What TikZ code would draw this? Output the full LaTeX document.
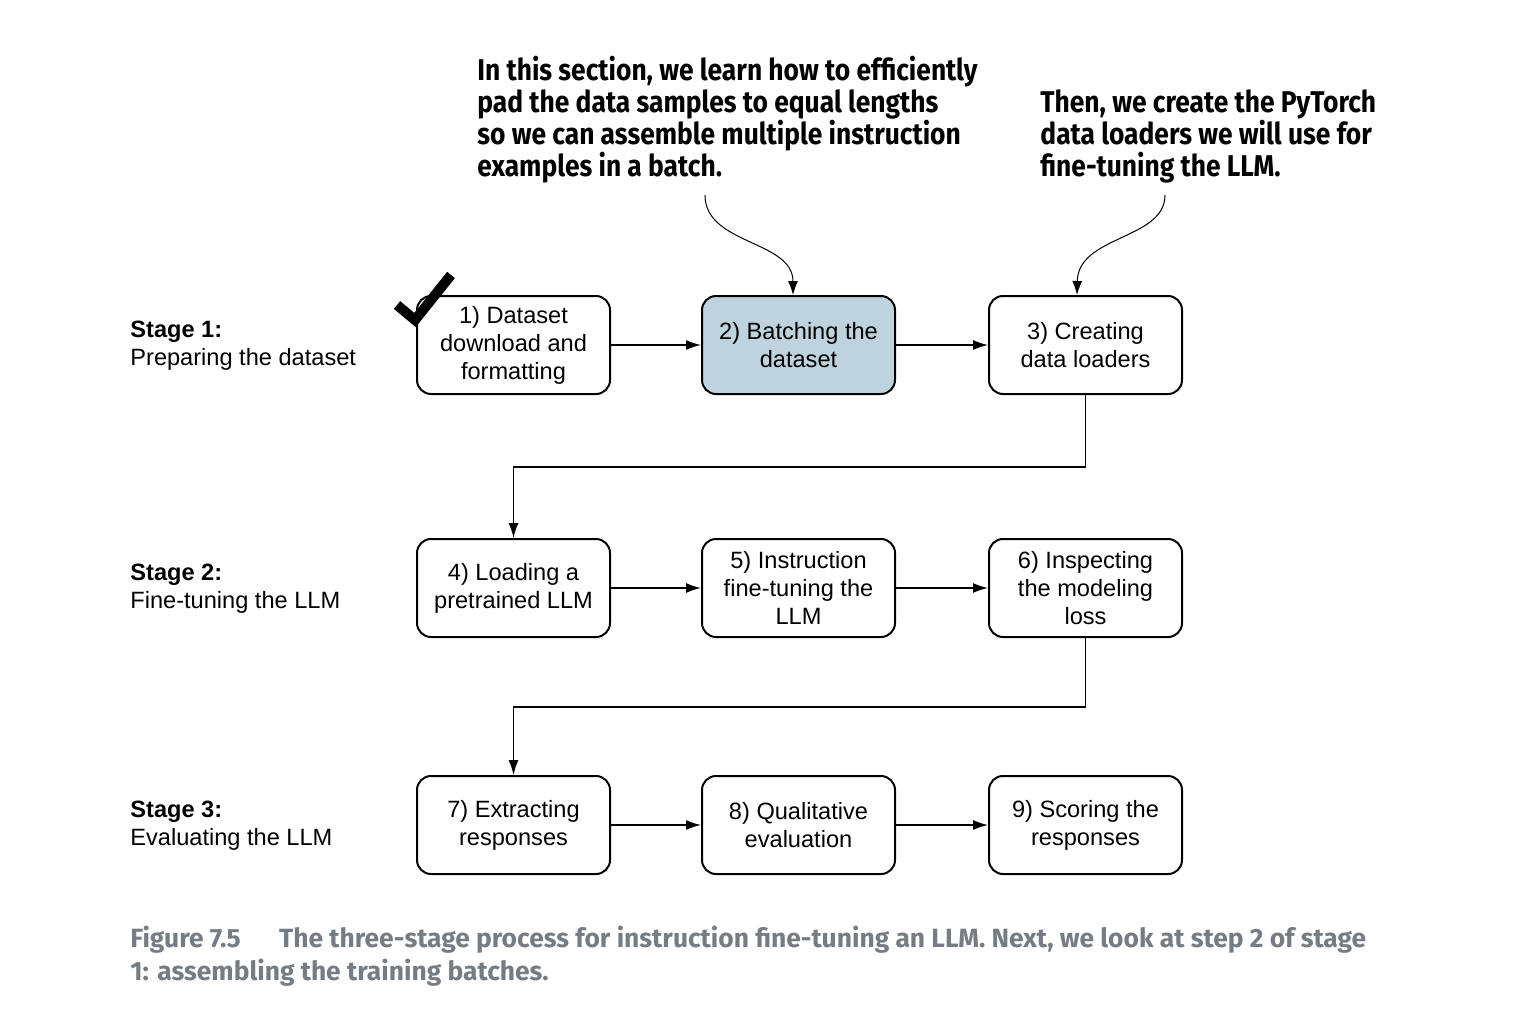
\documentclass[tikz,border=0pt]{standalone}
\usepackage{fontspec}
\setmainfont{Liberation Sans}
\newfontfamily\annotfont[FakeStretch=0.88]{Fira Sans}
\newfontfamily\capfont{Fira Sans}
\usetikzlibrary{arrows.meta}
\definecolor{boxblue}{HTML}{BED3DE}
\definecolor{capgray}{HTML}{767C83}
\tikzset{
  stepbox/.style={draw, line width=1pt, rounded corners=7pt, minimum width=96.5pt,
    minimum height=49pt, align=center, inner sep=0pt,
    font=\fontsize{11.8}{14}\selectfont},
  flow/.style={line width=0.7pt, -{Latex[length=7.5pt,width=5pt]}},
  notearrow/.style={line width=0.5pt, -{Latex[length=7pt,width=5pt]}},
  stagelbl/.style={anchor=west, align=left, inner sep=0pt,
    font=\fontsize{11.8}{14}\selectfont},
  notetext/.style={anchor=west, align=left, inner sep=0pt,
    font=\annotfont\bfseries\fontsize{15}{16}\selectfont},
}
\begin{document}
\begin{tikzpicture}[x=0.5pt,y=-0.5pt]
\useasboundingbox (0,0) rectangle (1530,1028);

% stage labels
\node[stagelbl] (s1) at (130,346) {\textbf{Stage 1:}\\Preparing the dataset};
\node[stagelbl] (s2) at (130,589) {\textbf{Stage 2:}\\Fine-tuning the LLM};
\node[stagelbl] (s3) at (130,826) {\textbf{Stage 3:}\\Evaluating the LLM};

% boxes
\node[stepbox] (b1) at (513.5,345) {1) Dataset\\download and\\formatting};
\node[stepbox, fill=boxblue] (b2) at (798.5,345) {2) Batching the\\dataset};
\node[stepbox] (b3) at (1085.5,345) {3) Creating\\data loaders};
\node[stepbox] (b4) at (513.5,588) {4) Loading a\\pretrained LLM};
\node[stepbox] (b5) at (798.5,588) {5) Instruction\\fine-tuning the\\LLM};
\node[stepbox] (b6) at (1085.5,588) {6) Inspecting\\the modeling\\loss};
\node[stepbox] (b7) at (513.5,825) {7) Extracting\\responses};
\node[stepbox] (b8) at (798.5,825) {8) Qualitative\\evaluation};
\node[stepbox] (b9) at (1085.5,825) {9) Scoring the\\responses};

% check mark
\draw[line width=5pt, miter limit=10] (397,305) -- (415,320) -- (451,275);

% horizontal flows
\draw[flow] (b1) -- (b2);
\draw[flow] (b2) -- (b3);
\draw[flow] (b4) -- (b5);
\draw[flow] (b5) -- (b6);
\draw[flow] (b7) -- (b8);
\draw[flow] (b8) -- (b9);

% row transitions
\draw[flow] (b3.south) -- ++(0,72) -| (b4.north);
\draw[flow] (b6.south) -- ++(0,69) -| (b7.north);

% annotations
\node[notetext] (n1) at (477,120) {In this section, we learn how to efficiently\\pad the data samples to equal lengths\\so we can assemble multiple instruction\\examples in a batch.};
\node[notetext] (n2) at (1040,136) {Then, we create the PyTorch\\data loaders we will use for\\fine-tuning the LLM.};
\coordinate (c1) at (705,195);
\coordinate (c2) at (1165,195);
\draw[notearrow] (c1) .. controls (705,245) and (793,240) .. (b2.north -| 793,0);
\draw[notearrow] (c2) .. controls (1165,240) and (1078,235) .. (b3.north -| 1077,0);

% caption
\node[anchor=west, align=left, inner sep=0pt, text=capgray,
  font=\capfont\bfseries\fontsize{13.2}{16.5}\selectfont] (cap) at (130,956)
  {Figure 7.5\hspace{1.45em}The three-stage process for instruction fine-tuning an LLM. Next, we look at step 2 of stage\\1: assembling the training batches.};
\end{tikzpicture}
\end{document}
